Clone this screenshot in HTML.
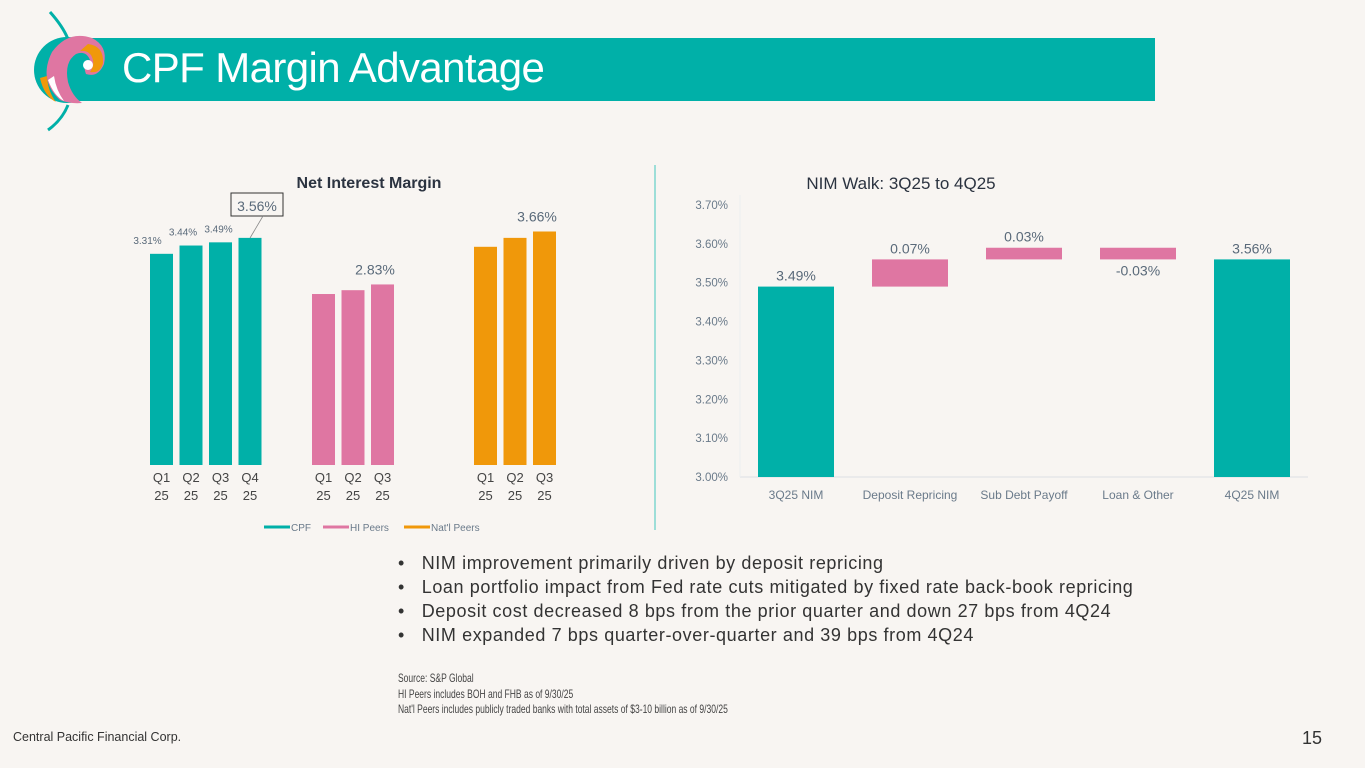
<!DOCTYPE html>
<html><head><meta charset="utf-8"><style>
body{margin:0;width:1365px;height:768px;background:#f8f5f2;overflow:hidden;position:relative;font-family:"Liberation Sans",sans-serif}
.abs{position:absolute}
</style></head><body>
<div class="abs" style="left:75px;top:38px;width:1080px;height:63px;background:#00b0a8"></div>
<div class="abs" style="left:122px;top:44px;font-size:42px;color:#fff;letter-spacing:-0.6px">CPF Margin Advantage</div>
<svg class="abs" style="left:30px;top:0" width="90" height="140" viewBox="0 0 90 140">
<path d="M20 12 Q45 40 40 60" stroke="#00b0a8" stroke-width="3" fill="none"/>
<path d="M38 105 Q32 120 18 130" stroke="#00b0a8" stroke-width="3" fill="none"/>
<circle cx="37" cy="70" r="33" fill="#00b0a8"/>
<path d="M30 100 Q8 80 22 52 Q38 30 62 38 Q78 46 74 64 Q68 78 56 74 Q52 64 60 60 Q56 50 46 54 Q34 62 38 82 Q42 96 52 103 Q40 104 30 100Z" fill="#df76a2"/>
<path d="M58 44 Q74 46 73 63 Q70 74 60 72 Q66 64 61 55 Q57 50 50 51Z" fill="#f0980a"/>
<path d="M10 78 Q14 96 26 102 Q18 92 17 76Z" fill="#f0980a"/>
<path d="M18 80 Q24 96 34 101 Q26 90 24 76Z" fill="#fff"/>
<circle cx="58" cy="65" r="5" fill="#fff"/>
</svg>

<svg class="abs" style="left:0;top:0" width="1365" height="768">
<line x1="655" y1="165" x2="655" y2="530" stroke="#7fd6d0" stroke-width="1.5"/>
<text x="369" y="188" text-anchor="middle" font-size="16" font-weight="bold" fill="#2b3340">Net Interest Margin</text>
<g id="left"></g>
<text x="901" y="189" text-anchor="middle" font-size="17" fill="#2b3340">NIM Walk: 3Q25 to 4Q25</text>
<g id="right"></g>
</svg>

<div class="abs" style="left:398px;top:551px;font-size:18px;letter-spacing:0.6px;color:#333;line-height:24px">
<div>•&nbsp;&nbsp;&nbsp;NIM improvement primarily driven by deposit repricing</div>
<div>•&nbsp;&nbsp;&nbsp;Loan portfolio impact from Fed rate cuts mitigated by fixed rate back-book repricing</div>
<div>•&nbsp;&nbsp;&nbsp;Deposit cost decreased 8 bps from the prior quarter and down 27 bps from 4Q24</div>
<div>•&nbsp;&nbsp;&nbsp;NIM expanded 7 bps quarter-over-quarter and 39 bps from 4Q24</div>
</div>
<div class="abs" style="left:398px;top:671px;font-size:12px;color:#444;line-height:15.5px;transform:scaleX(0.71);transform-origin:0 0;white-space:nowrap">
<div>Source: S&amp;P Global</div>
<div>HI Peers includes BOH and FHB as of 9/30/25</div>
<div>Nat'l Peers includes publicly traded banks with total assets of $3-10 billion as of 9/30/25</div>
</div>
<div class="abs" style="left:13px;top:730px;font-size:12.5px;color:#333">Central Pacific Financial Corp.</div>
<div class="abs" style="left:1302px;top:728px;font-size:18px;color:#333">15</div>

<script>
const groupNames = ["CPF","HI Peers","Nat'l Peers"];
const cpfValues = [3.31,3.44,3.49,3.56];
const hiValues = [2.68,2.74,2.83];
const natValues = [3.42,3.56,3.66];
const cpfCats = ["Q1 25","Q2 25","Q3 25","Q4 25"];
const peerCats = ["Q1 25","Q2 25","Q3 25"];
const walkCats = ["3Q25 NIM","Deposit Repricing","Sub Debt Payoff","Loan & Other","4Q25 NIM"];
const walkValues = [3.49,0.07,0.03,-0.03,3.56];
const walkTicks = [3.00,3.10,3.20,3.30,3.40,3.50,3.60,3.70];

const NS="http://www.w3.org/2000/svg";
function mk(parent,tag,attrs,text){const e=document.createElementNS(NS,tag);for(const k in attrs)e.setAttribute(k,attrs[k]);if(text!==undefined)e.textContent=text;parent.appendChild(e);return e;}

const L=document.getElementById('left');
const base=465, scale=63.8;
const yL=v=>base-v*scale;
const groups=[{vals:cpfValues,cats:cpfCats,x0:150,color:"#00b0a8"},{vals:hiValues,cats:peerCats,x0:312,color:"#df76a2"},{vals:natValues,cats:peerCats,x0:474,color:"#f0980a"}];
groups.forEach((g,gi)=>{
  g.vals.forEach((v,i)=>{
    const x=g.x0+i*29.5;
    const r=mk(L,'rect',{x:x,y:yL(v),width:23,height:base-yL(v),fill:g.color});
    
    
    const parts=g.cats[i].split(' ');
    const t1=mk(L,'text',{x:x+11.5,y:base+17,'text-anchor':'middle','font-size':13,fill:'#444'},parts[0]);
    
    
    const t2=mk(L,'text',{x:x+11.5,y:base+35,'text-anchor':'middle','font-size':13,fill:'#444'},parts[1]);
    
    
  });
});
cpfValues.forEach((v,i)=>{
  const x=150+i*29.5+11.5;
  if(i<3){
    const t=mk(L,'text',{x:x-14+i*6,y:yL(v)-10,'text-anchor':'middle','font-size':10,fill:'#5a6a7a'},v.toFixed(2)+'%');
    
    
  } else {
    mk(L,'rect',{x:231,y:193,width:52,height:23,fill:'none',stroke:'#333','stroke-width':1});
    mk(L,'line',{x1:250,y1:238,x2:263,y2:216,stroke:'#888','stroke-width':0.8});
    const t=mk(L,'text',{x:257,y:211,'text-anchor':'middle','font-size':14,fill:'#5a6a7a'},v.toFixed(2)+'%');
    
    
  }
});
[[hiValues,312],[natValues,474]].forEach(([vals,x0])=>{
  const i=vals.length-1, v=vals[i];
  const t=mk(L,'text',{x:x0+i*29.5+4,y:yL(v)-10,'text-anchor':'middle','font-size':14,fill:'#5a6a7a'},v.toFixed(2)+'%');
  
  
});
const legX=[264,323,404], legC=["#00b0a8","#df76a2","#f0980a"];
groupNames.forEach((n,i)=>{
  mk(L,'line',{x1:legX[i],y1:527,x2:legX[i]+26,y2:527,stroke:legC[i],'stroke-width':3});
  const t=mk(L,'text',{x:legX[i]+27,y:531,'font-size':10,fill:'#6a7a8a'},n);
  
  
});

const R=document.getElementById('right');
const y0=477, y1=205, vmin=3.0, vmax=3.7;
const yR=v=>y0-(v-vmin)/(vmax-vmin)*(y0-y1);
walkTicks.forEach(t=>{
  const e=mk(R,'text',{x:728,y:yR(t)+4,'text-anchor':'end','font-size':11.5,fill:'#6a7a8a'},t.toFixed(2)+'%');
  
  
});
mk(R,'line',{x1:740,y1:y0,x2:1308,y2:y0,stroke:'#dde0e4','stroke-width':1});
mk(R,'line',{x1:740,y1:y1-10,x2:740,y2:y0,stroke:'#eceef0','stroke-width':1});
let run=0;
walkValues.forEach((v,i)=>{
  const cx=796+i*114, x=cx-38;
  let top,bot,color,lab,ly;
  if(i===0||i===walkValues.length-1){top=v;bot=vmin;color="#00b0a8";run=v;lab=v.toFixed(2)+'%';ly=yR(top)-6;}
  else{const s=run,e2=run+v;top=Math.max(s,e2);bot=Math.min(s,e2);run=e2;color="#df76a2";lab=v.toFixed(2)+'%';ly=v>=0?yR(top)-6:yR(bot)+16;}
  const r=mk(R,'rect',{x:x,y:yR(top),width:76,height:yR(bot)-yR(top),fill:color});
  
  
  const t=mk(R,'text',{x:cx,y:ly,'text-anchor':'middle','font-size':14,fill:'#5a6a7a'},lab);
  
  
  const c=mk(R,'text',{x:cx,y:499,'text-anchor':'middle','font-size':12,fill:'#6a7a8a'},walkCats[i]);
  
  
});
</script>
</body></html>
